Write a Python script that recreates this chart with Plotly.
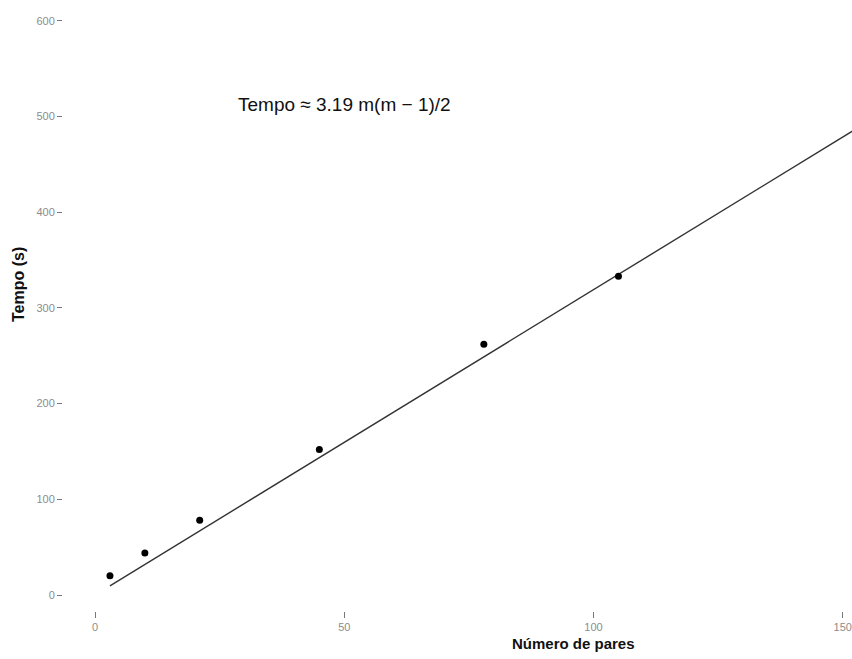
import numpy as np
import plotly.graph_objects as go

# Measured comparison times against number of pairs m(m-1)/2
pairs = [3, 10, 21, 45, 78, 105]
tempo = [20, 44, 78, 152, 262, 333]

# Fitted model: Tempo = coef * m(m-1)/2
coef = 3.19
m_grid = np.arange(3, 19)
fit_pairs = m_grid * (m_grid - 1) / 2
fit_tempo = coef * fit_pairs

x_ticks = [0, 50, 100, 150]
y_ticks = [0, 100, 200, 300, 400, 500, 600]

FONT = "Liberation Sans, Arial, sans-serif"
W, H = 852, 659
ML, MB = 63, 48
PW, PH = W - ML, H - MB

fig = go.Figure()
fig.add_trace(go.Scatter(
    x=fit_pairs, y=fit_tempo, mode="lines",
    line=dict(color="#333333", width=1.4),
    hoverinfo="skip", showlegend=False,
))
fig.add_trace(go.Scatter(
    x=pairs, y=tempo, mode="markers",
    marker=dict(color="black", size=7),
    showlegend=False,
))

# Model formula placed in data coordinates
fig.add_annotation(
    x=50, y=512, xref="x", yref="y",
    text=f"Tempo ≈ {coef} m(m − 1)/2",
    showarrow=False,
    font=dict(family=FONT, size=19, color="#111111"),
)
# Axis titles
fig.add_annotation(
    xref="paper", yref="paper",
    x=(573 - ML) / PW, y=-(643 - PH) / PH,
    xanchor="center", yanchor="middle",
    text="<b>Número de pares</b>", showarrow=False,
    font=dict(family=FONT, size=15, color="#111111"),
)
fig.add_annotation(
    xref="paper", yref="paper",
    x=-(ML - 18) / PW, y=(PH - 285) / PH,
    xanchor="center", yanchor="middle", textangle=-90,
    text="<b>Tempo (s)</b>", showarrow=False,
    font=dict(family=FONT, size=16, color="#111111"),
)

axis_font = dict(family=FONT, size=11, color="#8c8c8c")

fig.update_layout(
    width=W, height=H,
    margin=dict(l=ML, r=0, t=0, b=MB),
    paper_bgcolor="white", plot_bgcolor="white",
    font=dict(family=FONT),
    xaxis=dict(
        range=[-6.42, 151.85], tickvals=x_ticks,
        showgrid=False, zeroline=False, showline=False,
        ticks="outside", ticklen=6, tickwidth=1, tickcolor="#777777",
        tickfont=axis_font,
    ),
    yaxis=dict(
        range=[-16.7, 621.6], tickvals=y_ticks,
        showgrid=False, zeroline=False, showline=False,
        ticks="outside", ticklen=5, tickwidth=1, tickcolor="#777777",
        tickfont=axis_font,
    ),
)

fig.write_html("out.html")
